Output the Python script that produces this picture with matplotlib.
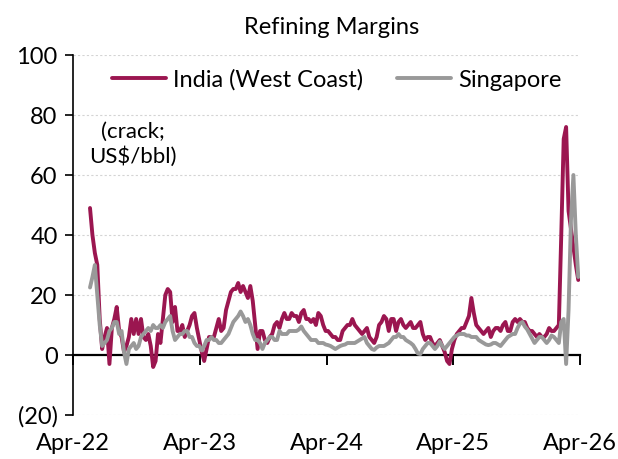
import matplotlib
matplotlib.use("Agg")
import matplotlib.pyplot as plt
import pandas as pd

plt.rcParams['font.family'] = ['Lato', 'DejaVu Sans']

title = "Refining Margins"
series_names = ["India (West Coast)", "Singapore"]
start_date = "2022-05-20"
tick_dates = ["2022-04-01", "2023-04-01", "2024-04-01", "2025-04-01", "2026-04-01"]
tick_labels = ["Apr-22", "Apr-23", "Apr-24", "Apr-25", "Apr-26"]
y_ticks = [-20, 0, 20, 40, 60, 80, 100]
y_labels = ["(20)", "0", "20", "40", "60", "80", "100"]

india = [49, 40, 34, 30, 12, 2, 6, 9, -3, 9,
         12, 16, 8, 6, 1, 3, 6, 12, 7, 12,
         7, 12, 6, 5, 7, 3, -4, -2, 7, 4,
         12, 20, 22, 21, 11, 16, 8, 8, 10, 6,
         8, 10, 13, 14, 9, 5, 1, -2, 2, 6,
         6, 6, 9, 12, 8, 9, 15, 18, 21, 22,
         22, 24, 21, 23, 21, 19, 23, 18, 10, 2,
         8, 8, 5, 4, 6, 7, 10, 11, 9, 12,
         14, 12, 12, 14, 13, 13, 11, 14, 15, 12,
         12, 11, 12, 10, 14, 13, 10, 8, 8, 7,
         6, 6, 5, 5, 8, 9, 10, 10, 12, 10,
         9, 8, 7, 8, 9, 6, 5, 4, 6, 10,
         11, 13, 12, 8, 12, 12, 8, 11, 12, 10,
         9, 10, 11, 9, 9, 10, 11, 7, 5, 6,
         6, 4, 3, 4, 5, 3, 1, -2, -3, 2,
         5, 7, 8, 9, 9, 11, 13, 19, 14, 10,
         9, 8, 7, 8, 9, 6, 8, 9, 9, 8,
         10, 11, 8, 8, 11, 12, 11, 12, 11, 11,
         9, 8, 8, 7, 6, 7, 6, 6, 7, 9,
         8, 8, 9, 10, 40, 72, 76, 48, 42, 36,
         30, 25]

singapore = [22.5, 26, 30, 20, 10, 3, 4, 5, 8, 9,
             11, 11, 7, 8, 1, -3, 2, 3, 4, 2,
             3, 6, 7, 8, 9, 8, 10, 9, 9, 10,
             9, 11, 12, 13, 8, 5, 6, 7, 7, 8,
             8, 6, 6, 4, 3, 3, 1.5, 3, 5, 5,
             6, 5, 5, 4, 4, 5, 6, 7, 9, 11,
             12, 13, 14.5, 13, 11, 12, 10, 7, 5, 5,
             4, 2, 4, 5, 6, 6, 5, 5, 8, 7,
             7, 7, 8, 8, 8, 8, 8.5, 9.5, 8, 7,
             6, 5, 5, 5, 4, 4, 4, 3.5, 3.3, 3,
             2.5, 2, 2.5, 3, 3.3, 3.5, 4, 4, 4, 4,
             4.5, 5, 5.5, 6, 4, 3, 2, 1.7, 2.5, 3,
             3, 3, 3.5, 4, 5, 6, 6, 7, 6, 6,
             5, 4.5, 4, 3.3, 2, 0.5, 0.3, 2, 3, 4,
             4, 3, 2, 3, 4.5, 3, 2, 3, 4, 5,
             6, 6.5, 7, 7, 7, 6.5, 6.5, 6, 6, 6,
             5, 4.5, 4, 3.5, 3.3, 3.5, 4, 4, 3.5, 3,
             4, 5, 6, 6.5, 7, 7, 9, 10.5, 11, 9.5,
             8.5, 7, 5.5, 4, 5, 6, 6, 5, 4, 5,
             6.5, 6, 5, 4, 11, 12, -3, 15, 45, 60,
             40, 26]

dates = pd.date_range(start_date, periods=len(india), freq="7D")

india_color = "#9B1650"
sing_color = "#999999"

fig = plt.figure(figsize=(6.18, 4.59), dpi=100)
ax = fig.add_axes([73/618, 1-415/459, (580-73)/618, (415-55)/459])

ax.plot(dates, india, color=india_color, lw=2.8, label=series_names[0], zorder=3,
        solid_joinstyle='round', solid_capstyle='round')
ax.plot(dates, singapore, color=sing_color, lw=2.8, label=series_names[1], zorder=4,
        solid_joinstyle='round', solid_capstyle='round')

ax.set_xlim(pd.Timestamp(tick_dates[0]), pd.Timestamp(tick_dates[-1]))
ax.set_ylim(-20, 100)

ax.set_yticks(y_ticks)
ax.set_yticklabels(y_labels)
ax.set_xticks([pd.Timestamp(d) for d in tick_dates])
ax.set_xticklabels(tick_labels)

for yv in y_ticks:
    if yv != 0:
        ax.axhline(yv, color="#d4d4d4", lw=0.8, ls=(0, (2, 2)), zorder=1)

for s in ["top", "right"]:
    ax.spines[s].set_visible(False)
ax.spines["bottom"].set_position(("data", 0))
ax.spines["bottom"].set_linewidth(1.6)
ax.spines["left"].set_linewidth(1.2)
ax.spines["bottom"].set_zorder(2)

ax.tick_params(axis="y", direction="out", length=6, width=1.2, labelsize=17, pad=5)
ax.tick_params(axis="x", direction="out", length=7, width=1.4, labelsize=17, pad=49)

ax.set_title(title, fontsize=17, pad=15, x=0.51)

leg = ax.legend(loc="upper center", bbox_to_anchor=(0.52, 1.02), ncol=2, frameon=False,
                fontsize=17, handlelength=2.3, columnspacing=1.4, handletextpad=0.3)
for line in leg.get_lines():
    line.set_linewidth(2.8)

ax.text(0.118, 0.752, "(crack;\nUS$/bbl)", transform=ax.transAxes, ha="center", va="center",
        fontsize=16, linespacing=1.25)

fig.savefig("out.png", dpi=100)
